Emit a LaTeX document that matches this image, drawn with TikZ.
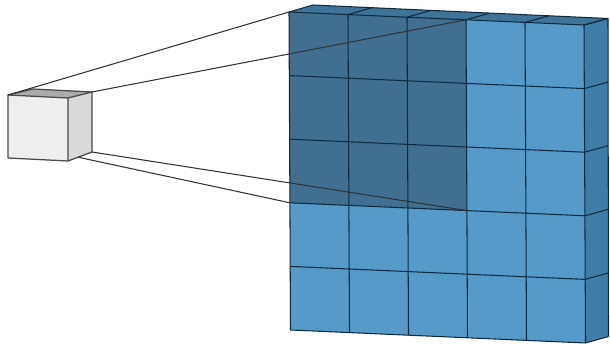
\documentclass[tikz,border=0pt]{standalone}
\usetikzlibrary{calc}
\definecolor{faceblue}{HTML}{559AC8}
\definecolor{shadeblue}{HTML}{406F91}
\definecolor{topblue}{HTML}{3F7398}
\definecolor{sideblue}{HTML}{3F7CA8}
\definecolor{gridline}{HTML}{0E2A40}
\definecolor{cubeline}{HTML}{4A4A4A}
\tikzset{
  gridstroke/.style={draw=gridline,line width=1.05pt,line join=round},
  cubestroke/.style={draw=cubeline,line width=1.25pt,line join=round},
  ray/.style={draw=black!80,line width=1.05pt}
}
\begin{document}
\begin{tikzpicture}[x=1pt,y=-1pt]
\useasboundingbox (0,0) rectangle (610,344);
% big block corners
\coordinate (FTL) at (289,12);
\coordinate (FTR) at (584,25);
\coordinate (FBL) at (290.5,330);
\coordinate (FBR) at (585.5,343);
\coordinate (BTL) at (313,5);
\coordinate (BTR) at (608,18.5);
\coordinate (BBR) at (608.5,336.5);
% faces
\fill[faceblue] (FTL) -- (FTR) -- (FBR) -- (FBL) -- cycle;
\fill[topblue] (FTL) -- (BTL) -- (BTR) -- (FTR) -- cycle;
\fill[sideblue] (FTR) -- (BTR) -- (BBR) -- (FBR) -- cycle;
% shaded part of the front
\coordinate (ST) at ($(FTL)!0.6!(FTR)$);
\coordinate (SL) at ($(FTL)!0.6!(FBL)$);
\coordinate (SB) at ($(FBL)!0.6!(FBR)$);
\coordinate (SC) at ($(ST)!0.6!(SB)$);
\fill[shadeblue] (FTL) -- (ST) -- (SC) -- (SL) -- cycle;
% grid
\foreach \i in {0,1,2,3,4,5}{
  \pgfmathsetmacro{\t}{\i/5}
  \draw[gridstroke] ($(FTL)!\t!(FTR)$) -- ($(FBL)!\t!(FBR)$);
  \draw[gridstroke] ($(FTL)!\t!(FBL)$) -- ($(FTR)!\t!(FBR)$);
  \draw[gridstroke] ($(FTL)!\t!(FTR)$) -- ($(BTL)!\t!(BTR)$);
  \draw[gridstroke] ($(FTR)!\t!(FBR)$) -- ($(BTR)!\t!(BBR)$);
}
\draw[gridstroke] (BTL) -- (BTR) -- (BBR);
% small cube
\coordinate (CFTL) at (8,95);
\coordinate (CFTR) at (68,98);
\coordinate (CFBL) at (8,158);
\coordinate (CFBR) at (68,161);
\coordinate (CBTL) at (33,89);
\coordinate (CBTR) at (92,92);
\coordinate (CBBR) at (92,152);
\coordinate (CRAY) at ($(CFBR)!0.42!(CBBR)$);
\fill[black!6.5] (CFTL) -- (CFTR) -- (CFBR) -- (CFBL) -- cycle;
\fill[black!33] (CFTL) -- (CBTL) -- (CBTR) -- (CFTR) -- cycle;
\fill[black!15] (CFTR) -- (CBTR) -- (CBBR) -- (CFBR) -- cycle;
\draw[cubestroke] (CFTL) -- (CFTR) -- (CFBR) -- (CFBL) -- cycle;
\draw[cubestroke] (CFTL) -- (CBTL) -- (CBTR) -- (CBBR) -- (CFBR);
\draw[cubestroke] (CFTR) -- (CBTR);
% rays
\draw[ray] (CFTL) -- (FTL);
\draw[ray] (CBTR) -- (ST);
\draw[ray] (CBBR) -- (SC);
\draw[ray] (CRAY) -- (SL);
\end{tikzpicture}
\end{document}
